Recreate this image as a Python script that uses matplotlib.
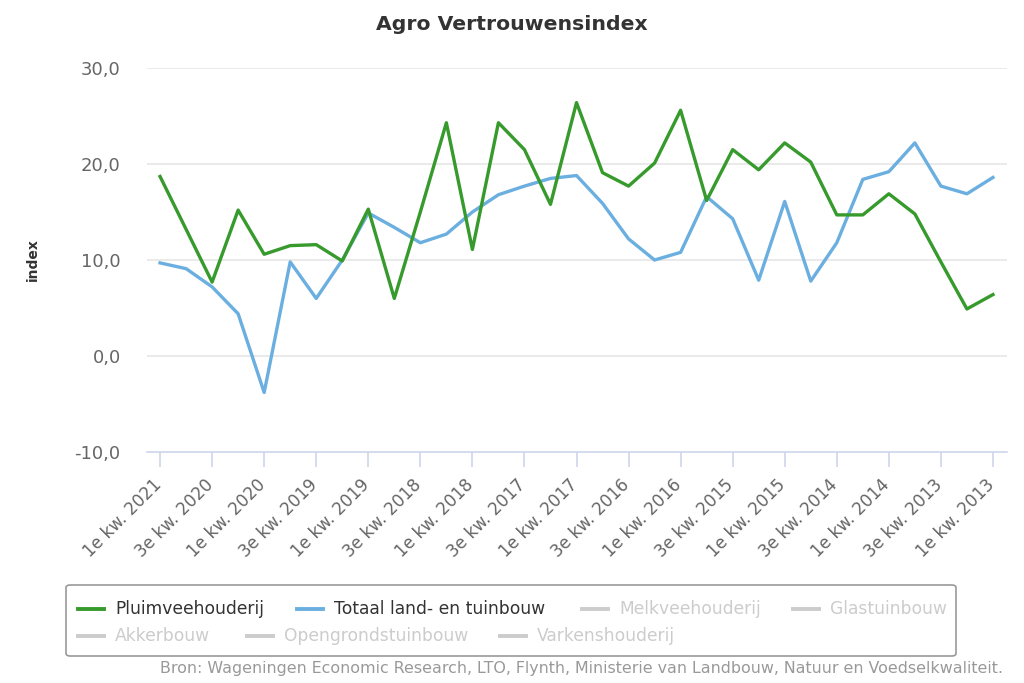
import matplotlib
matplotlib.use("Agg")
import matplotlib.pyplot as plt
import matplotlib.transforms as mtransforms
from matplotlib.lines import Line2D
from matplotlib.patches import FancyBboxPatch

# quarters, newest first (as on the original x-axis)
quarters = []
for year in range(2021, 2012, -1):
    for q in (4, 3, 2, 1):
        if year == 2021 and q > 1:
            continue
        quarters.append(f"{q}e kw. {year}")

pluimvee = [18.7, 13.2, 7.7, 15.2, 10.6, 11.5, 11.6, 9.9, 15.3, 6.0,
            15.0, 24.3, 11.1, 24.3, 21.5, 15.8, 26.4, 19.1, 17.7, 20.1,
            25.6, 16.2, 21.5, 19.4, 22.2, 20.2, 14.7, 14.7, 16.9, 14.8,
            9.8, 4.9, 6.4]
totaal = [9.7, 9.1, 7.2, 4.4, -3.8, 9.8, 6.0, 10.0, 14.9, 13.4,
          11.8, 12.7, 15.0, 16.8, 17.7, 18.5, 18.8, 15.9, 12.2, 10.0,
          10.8, 16.6, 14.3, 7.9, 16.1, 7.8, 11.8, 18.4, 19.2, 22.2,
          17.7, 16.9, 18.6]

y_ticks = [-10, 0, 10, 20, 30]

green = "#379a2c"
blue = "#6aafe0"
grey_txt = "#666666"

fig = plt.figure(figsize=(10.24, 6.83), dpi=100)
ax = fig.add_axes([0.1436, 0.3382, 0.8398, 0.5622])

x = list(range(len(quarters)))
ax.plot(x, pluimvee, color=green, lw=2.4, solid_joinstyle="round", zorder=3)
ax.plot(x, totaal, color=blue, lw=2.4, solid_joinstyle="round", zorder=2)

ax.set_xlim(-0.5, len(quarters) - 0.46)
ax.set_ylim(-10, 30)

for s in ax.spines.values():
    s.set_visible(False)
ax.axhline(-10, color="#ccd6eb", lw=1.2, zorder=1, clip_on=False)
for v in y_ticks[1:]:
    ax.axhline(v, color="#e6e6e6", lw=1.2, zorder=0)

ax.set_yticks(y_ticks)
ax.set_yticklabels([f"{v:.1f}".replace(".", ",") for v in y_ticks],
                   color=grey_txt, fontsize=13)
ax.tick_params(axis="y", length=0, pad=19)

ax.set_xticks(x[::2])
ax.set_xticklabels(quarters[::2], rotation=45, ha="right", va="top",
                   rotation_mode="anchor", color=grey_txt, fontsize=12.2)
ax.tick_params(axis="x", length=11, width=1.2, color="#ccd6eb", pad=6)
shift = mtransforms.ScaledTranslation(-8 / 100, 0, fig.dpi_scale_trans)
for lab in ax.get_xticklabels():
    lab.set_transform(lab.get_transform() + shift)

ax.set_ylabel("index", fontsize=10, fontweight="bold", color="#333333",
              labelpad=25)

fig.text(0.5, 1 - 25 / 683, "Agro Vertrouwensindex", ha="center",
         va="center", fontsize=14.7, fontweight="bold", color="#333333")

# legend box, drawn like the original (two free-flowing rows)
W, H = 1024, 683
box = FancyBboxPatch((66 / W, 1 - 656 / H), (956 - 66) / W, (656 - 585) / H,
                     boxstyle="round,pad=0,rounding_size=0.004",
                     transform=fig.transFigure, facecolor="white",
                     edgecolor="#999999", lw=1.2)
fig.patches.append(box)

legend_items = [
    ("Pluimveehouderij", green, "#333333", 78, 609),
    ("Totaal land- en tuinbouw", blue, "#333333", 297, 609),
    ("Melkveehouderij", "#cccccc", "#cccccc", 582, 609),
    ("Glastuinbouw", "#cccccc", "#cccccc", 793, 609),
    ("Akkerbouw", "#cccccc", "#cccccc", 78, 636),
    ("Opengrondstuinbouw", "#cccccc", "#cccccc", 247, 636),
    ("Varkenshouderij", "#cccccc", "#cccccc", 500, 636),
]
for label, lc, tc, px, py in legend_items:
    fig.lines.append(Line2D([px / W, (px + 26) / W], [1 - py / H, 1 - py / H],
                            transform=fig.transFigure, color=lc, lw=2.8))
    fig.text((px + 37) / W, 1 - py / H, label, ha="left", va="center",
             fontsize=12.3, color=tc)

fig.text(1003 / W, 1 - 668 / H,
         "Bron: Wageningen Economic Research, LTO, Flynth, Ministerie van "
         "Landbouw, Natuur en Voedselkwaliteit.",
         ha="right", va="center", fontsize=11.4, color="#999999")

fig.savefig("out.png", dpi=100)
